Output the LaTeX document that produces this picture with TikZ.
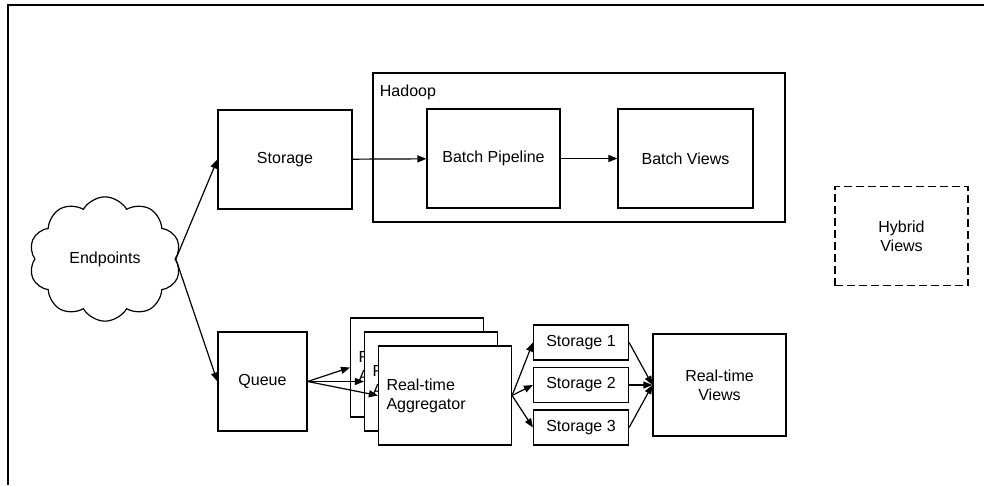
\documentclass[tikz,border=0pt]{standalone}
\usepackage{fontspec}
\setmainfont{Liberation Sans}
\usetikzlibrary{arrows.meta,shapes.symbols}
\tikzset{
  box/.style={draw, fill=white, minimum width=133pt, minimum height=99pt, align=center},
  >={Triangle[length=9pt,width=7pt]}
}
\begin{document}
\begin{tikzpicture}[x=1pt,y=-1pt,line width=1.2pt,font=\fontsize{16}{19}\selectfont]
\useasboundingbox (0,0) rectangle (984,485);
\draw[line width=2pt] (984,5) -- (8,5) -- (8,485);
\node [cloud, draw, cloud puffs=10, cloud puff arc=120, minimum width=152pt, minimum height=100pt] (ep) at (105,259) {Endpoints};
\node [box, minimum width=134pt] (st) at (285,159.5) {Storage};
\node [box, minimum width=412pt, minimum height=149pt] (hd) at (579,147.5) {};
\node [anchor=west] (hdl) at (376,92) {Hadoop};
\node [box] (bp) at (493.5,158.5) {Batch Pipeline};
\node [box, minimum width=135pt] (bv) at (685.5,158.5) {Batch Views};
\node [box, dash pattern=on 8pt off 4pt] (hv) at (901.5,236) {Hybrid\\Views};
\node [box, minimum width=89pt] (qu) at (262.5,381.5) {Queue};
\foreach [count=\i] \d in {0,14,28}
\node [box, text width=117pt, inner xsep=8pt, align=left] (ag\i) at (417+\d,367.5+\d) {Real-time\\Aggregator};
\foreach [count=\i] \y in {342.5,385,427.5}
\node [box, minimum width=95pt, minimum height=35pt] (s\i) at (581,\y) {Storage \i};
\node [box, minimum height=102pt] (rv) at (719.5,385) {Real-time\\Views};
\draw[->] (ep.east) -- (st.west);
\draw[->] (ep.east) -- (qu.west);
\draw[->] (st) -- (bp);
\draw[->] (bp) -- (bv);
\foreach \i in {1,2,3}
\draw[->] (qu.east) -- (ag\i.west);
\foreach \i in {1,2,3} {
\draw[->] (ag3.east) -- (s\i.west);
\draw[->] (s\i.east) -- (rv.west);
}
\end{tikzpicture}
\end{document}
